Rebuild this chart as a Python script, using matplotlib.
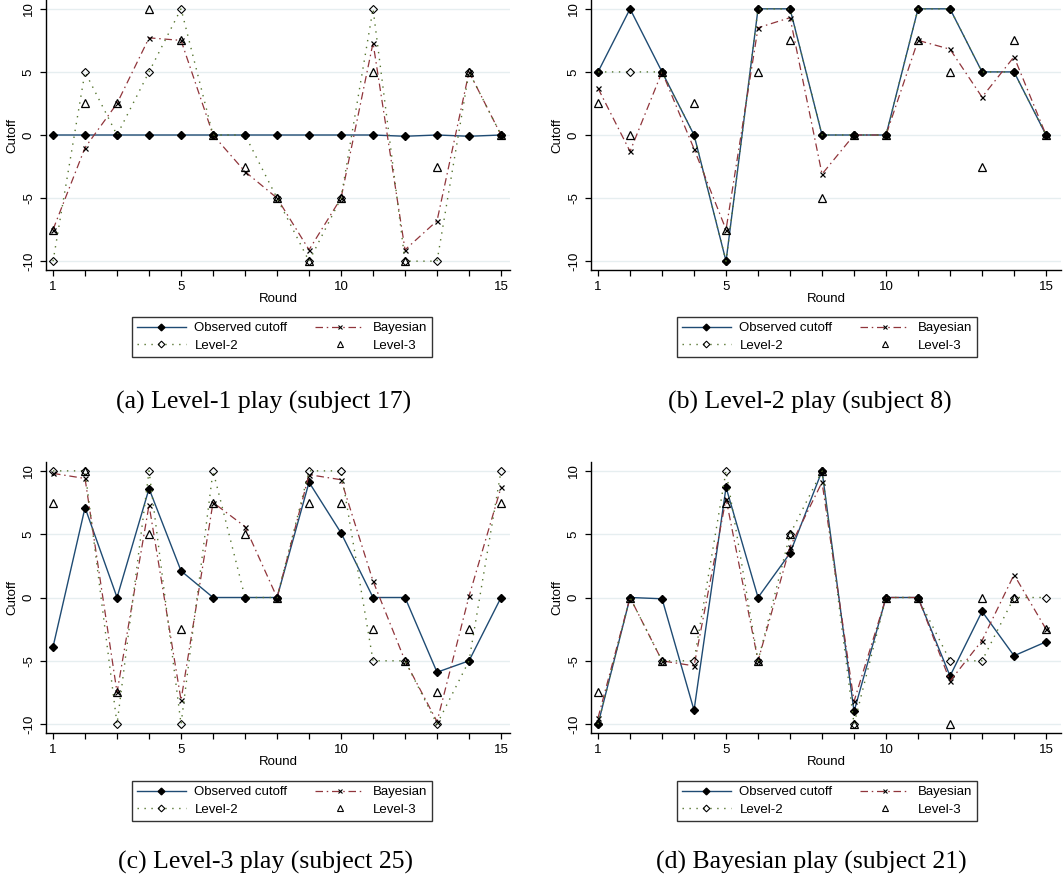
import numpy as np
import matplotlib
matplotlib.use("Agg")
import matplotlib.pyplot as plt
from matplotlib.lines import Line2D

# ── Data ─────────────────────────────────────────────────────────────────────
rounds = np.arange(1, 16)

captions = ["(a) Level-1 play (subject 17)", "(b) Level-2 play (subject 8)",
            "(c) Level-3 play (subject 25)", "(d) Bayesian play (subject 21)"]

obs_a   = [0, 0, 0, 0, 0, 0, 0, 0, 0, 0, 0, -0.1, 0, -0.1, 0]
bayes_a = [-7.5, -1, 2.5, 7.7, 7.5, 0, -2.9, -5, -9.1, -5, 7.3, -9.1, -6.8, 5, 0]
lev2_a  = [-10, 5, 0, 5, 10, 0, 0, -5, -10, -5, 10, -10, -10, 5, 0]
lev3_a  = [-7.5, 2.5, 2.5, 10, 7.5, 0, -2.5, -5, -10, -5, 5, -10, -2.5, 5, 0]

obs_b   = [5, 10, 5, 0, -10, 10, 10, 0, 0, 0, 10, 10, 5, 5, 0]
bayes_b = [3.7, -1.3, 5, -1.1, -7.5, 8.5, 9.3, -3.1, 0, 0, 7.5, 6.8, 3, 6.2, 0]
lev2_b  = [5, 5, 5, 0, -10, 10, 10, 0, 0, 0, 10, 10, 5, 5, 0]
lev3_b  = [2.5, 0, 5, 2.5, -7.5, 5, 7.5, -5, 0, 0, 7.5, 5, -2.5, 7.5, 0]

obs_c   = [-3.9, 7.1, 0, 8.6, 2.1, 0, 0, 0, 9.1, 5.1, 0, 0, -5.9, -5, 0]
bayes_c = [9.8, 9.4, -7.5, 7.3, -8.1, 7.5, 5.6, 0, 9.7, 9.3, 1.3, -5, -9.8, 0.1, 8.7]
lev2_c  = [10, 10, -10, 10, -10, 10, 0, 0, 10, 10, -5, -5, -10, -5, 10]
lev3_c  = [7.5, 10, -7.5, 5, -2.5, 7.5, 5, 0, 7.5, 7.5, -2.5, -5, -7.5, -2.5, 7.5]

obs_d   = [-10, 0, -0.1, -8.9, 8.7, 0, 3.5, 10, -9, 0, 0, -6.2, -1.1, -4.6, -3.5]
bayes_d = [-9.5, 0, -5, -5.4, 7.8, -5, 4, 9.1, -8.2, 0, 0, -6.6, -3.4, 1.8, -2.5]
lev2_d  = [-10, 0, -5, -5, 10, -5, 5, 10, -10, 0, 0, -5, -5, 0, 0]
lev3_d  = [-7.5, 0, -5, -2.5, 7.5, -5, 5, 10, -10, 0, 0, -10, 0, 0, -2.5]

panels = [(obs_a, bayes_a, lev2_a, lev3_a), (obs_b, bayes_b, lev2_b, lev3_b),
          (obs_c, bayes_c, lev2_c, lev3_c), (obs_d, bayes_d, lev2_d, lev3_d)]

# ── Style ────────────────────────────────────────────────────────────────────
NAVY   = "#1f4b73"
MAROON = "#90353b"
GREEN  = "#55752f"
GRID   = "#e6eef0"
BAYES_LS = (0, (6, 3, 1.2, 3))
LEV2_LS  = (0, (1, 4))

plt.rcParams["font.family"] = ["Liberation Sans", "DejaVu Sans"]
W, H = 1063, 886
fig = plt.figure(figsize=(W / 100, H / 100), dpi=100)

# axes boxes in pixels: left, right, top, bottom
boxes = [(46, 510, 0, 270), (591, 1061, 0, 270),
         (46, 510, 462, 733), (591, 1061, 462, 733)]
legend_centres = [(282, 337), (827, 337), (282, 801), (827, 801)]
caption_centres = [(264, 402), (810, 402), (265, 862), (811, 862)]


def draw_panel(ax, obs, bayes, lev2, lev3):
    for yv in (-10, -5, 0, 5, 10):
        ax.axhline(yv, color=GRID, lw=1.0, zorder=0)
    # hollow markers have no fill, so marks underneath show through
    ax.plot(rounds, obs, color=NAVY, lw=1.0, marker="D", ms=4.0,
            mfc="black", mec="black", zorder=3)
    ax.plot(rounds, bayes, color=MAROON, lw=0.9, ls=BAYES_LS, marker="x",
            ms=3.6, mec="black", mew=0.9, zorder=4)
    ax.plot(rounds, lev2, color=GREEN, lw=1.0, ls=LEV2_LS, marker="D", ms=4.0,
            mfc="none", mec="black", mew=0.8, zorder=5)
    ax.plot(rounds, lev3, ls="none", marker="^", ms=5.6,
            mfc="none", mec="black", mew=0.9, zorder=6)

    ax.set_ylim(-10.7, 10.7)
    ax.set_xlim(0.78, 15.28 + (ax.get_position().width * W - 464) / 32)
    ax.set_yticks([-10, -5, 0, 5, 10])
    ax.set_yticklabels(["-10", "-5", "0", "5", "10"], rotation=90, va="center")
    ax.set_xticks(rounds)
    ax.set_xticklabels([str(r) if r in (1, 5, 10, 15) else "" for r in rounds])
    ax.tick_params(axis="both", length=4, width=0.9, labelsize=9.5, pad=4)
    for s in ("top", "right"):
        ax.spines[s].set_visible(False)
    for s in ("left", "bottom"):
        ax.spines[s].set_linewidth(1.0)
    ax.set_xlabel("Round", fontsize=9.5, labelpad=0)
    ax.set_ylabel("Cutoff", fontsize=9.5, labelpad=3)


handles = [
    Line2D([], [], color=NAVY, lw=1.0, marker="D", ms=3.4, mfc="black", mec="black"),
    Line2D([], [], color=MAROON, lw=0.9, ls=BAYES_LS, marker="x", ms=3.2, mec="black", mew=0.8),
    Line2D([], [], color=GREEN, lw=1.0, ls=LEV2_LS, marker="D", ms=3.4, mfc="none", mec="black", mew=0.8),
    Line2D([], [], ls="none", marker="^", ms=4.4, mfc="none", mec="black", mew=0.8),
]
labels = ["Observed cutoff", "Bayesian", "Level-2", "Level-3"]
# legend fills column by column: Observed, Level-2 | Bayesian, Level-3
order = [0, 2, 1, 3]

for (l, r, t, b), data, lc, cc, cap in zip(boxes, panels, legend_centres,
                                            caption_centres, captions):
    ax = fig.add_axes([l / W, 1 - b / H, (r - l) / W, (b - t) / H])
    draw_panel(ax, *data)
    leg = fig.legend([handles[i] for i in order], [labels[i] for i in order],
                     ncol=2, loc="center", bbox_to_anchor=(lc[0] / W, 1 - lc[1] / H),
                     fontsize=9.5, frameon=True, fancybox=False, handlelength=3.7,
                     handletextpad=0.65, columnspacing=2.1, labelspacing=0.4,
                     borderpad=0.4, numpoints=1)
    leg.get_frame().set_edgecolor("black")
    leg.get_frame().set_linewidth(1.0)
    fig.text(cc[0] / W, 1 - cc[1] / H, cap, ha="center", va="center",
             fontsize=18.5, family=["Liberation Serif", "DejaVu Serif"])

fig.savefig("out.png", dpi=100)
